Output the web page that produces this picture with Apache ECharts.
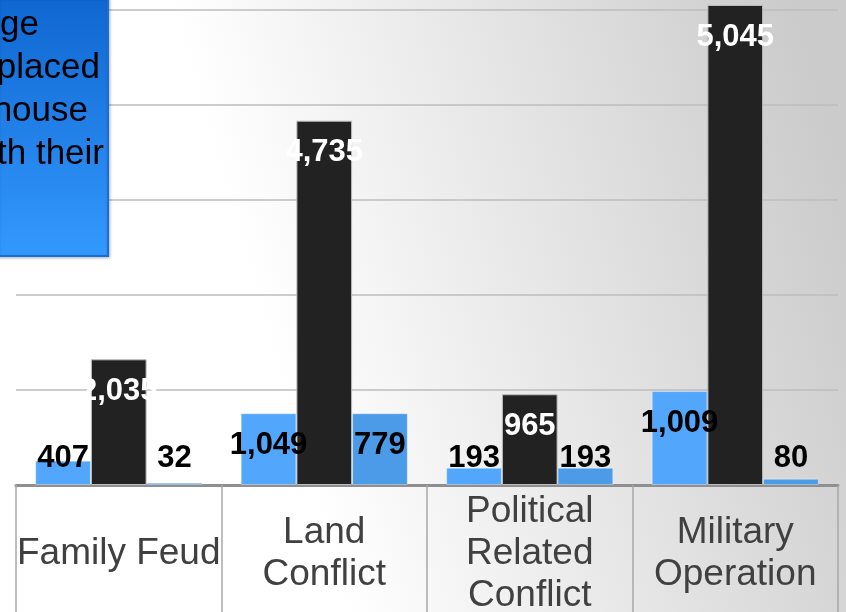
<!DOCTYPE html>
<html>
<head>
<meta charset="utf-8">
<script src="https://cdn.jsdelivr.net/npm/echarts@6/dist/echarts.min.js"></script>
<style>
  html, body { margin: 0; padding: 0; background: #fff; }
  #chart { width: 846px; height: 612px; }
</style>
</head>
<body>
<div id="chart"></div>
<script>
// ---- data ----
const categories = ['Family Feud', 'Land\nConflict', 'Political\nRelated\nConflict', 'Military\nOperation'];
// bar heights (axis units, gridlines every 1000)
const barsSeries1 = [256, 755, 182, 989];
const barsSeries2 = [1323, 3835, 955, 5053];
const barsSeries3 = [24, 755, 182, 66];
// numbers printed on the bars
const labelsSeries1 = [407, 1049, 193, 1009];
const labelsSeries2 = [2035, 4735, 965, 5045];
const labelsSeries3 = [32, 779, 193, 80];
const yTickValues = [0, 1000, 2000, 3000, 4000, 5000];
const boxLines = ['ge', 'placed', 'house', 'th their'];

// ---- chart ----
const chart = echarts.init(document.getElementById('chart'), null, { renderer: 'canvas' });
const FONT = 'Arial, "Liberation Sans", sans-serif';
const fmt = n => n.toLocaleString('en-US');

function labelFor(texts, color) {
  return {
    show: true,
    position: 'insideTop',
    align: 'center',
    verticalAlign: 'middle',
    fontFamily: FONT,
    fontWeight: 'bold',
    fontSize: 31,
    color: color,
    formatter: p => fmt(texts[p.dataIndex])
  };
}
function layoutFn(params) {
  const r = params.rect;
  return {
    x: r.x + r.width / 2,
    y: Math.min(r.y + 32, r.y + r.height - 27)
  };
}

const yStep = yTickValues[1] - yTickValues[0];

const option = {
  backgroundColor: {
    type: 'linear', x: 0, y: 0.7, x2: 1, y2: 0.3,
    colorStops: [
      { offset: 0, color: '#ffffff' },
      { offset: 0.32, color: '#ffffff' },
      { offset: 1, color: '#cbcbcb' }
    ]
  },
  animation: false,
  grid: { left: 16, right: 8, top: -18.5, bottom: 127, containLabel: false, outerBoundsMode: 'none' },
  xAxis: {
    type: 'category',
    data: categories,
    axisLine: { show: true, lineStyle: { color: '#8f8f8f', width: 3 } },
    axisTick: { show: true, alignWithLabel: false, length: 130, lineStyle: { color: '#a8a8a8', width: 1.5 } },
    axisLabel: {
      interval: 0,
      margin: 69,
      verticalAlign: 'middle',
      fontFamily: FONT,
      fontSize: 37,
      lineHeight: 42,
      color: '#404040'
    }
  },
  yAxis: {
    type: 'value',
    min: yTickValues[0],
    max: 5300,
    interval: yStep,
    axisLine: { show: false },
    axisTick: { show: false },
    axisLabel: { show: false },
    splitLine: { show: true, showMaxLine: false, lineStyle: { color: '#bdbdbd', width: 1.5 } }
  },
  series: [
    {
      name: 'Series 1', type: 'bar', data: barsSeries1,
      barCategoryGap: '18.7%', barGap: '0%',
      itemStyle: { color: '#52a7fd', borderColor: 'rgba(255,255,255,0.35)', borderWidth: 1 },
      label: labelFor(labelsSeries1, '#000000'),
      labelLayout: layoutFn,
      z: 2
    },
    {
      name: 'Series 2', type: 'bar', data: barsSeries2,
      barCategoryGap: '18.7%', barGap: '0%',
      itemStyle: { color: '#222222', borderColor: '#bdbdbd', borderWidth: 1 },
      label: labelFor(labelsSeries2, '#ffffff'),
      labelLayout: layoutFn,
      z: 2
    },
    {
      name: 'Series 3', type: 'bar', data: barsSeries3,
      barCategoryGap: '18.7%', barGap: '0%',
      itemStyle: { color: '#4c9be8', borderColor: 'rgba(255,255,255,0.35)', borderWidth: 1 },
      label: labelFor(labelsSeries3, '#000000'),
      labelLayout: layoutFn,
      z: 2
    }
  ],
  graphic: [
    {
      type: 'rect',
      z: 100,
      shape: { x: -3, y: -3, width: 111, height: 259 },
      style: {
        fill: {
          type: 'linear', x: 0, y: 0, x2: 0, y2: 1,
          colorStops: [
            { offset: 0, color: '#0f66d0' },
            { offset: 1, color: '#3399ff' }
          ]
        },
        stroke: '#1a6ed6',
        lineWidth: 2,
        shadowColor: 'rgba(0,0,0,0.25)',
        shadowBlur: 3,
        shadowOffsetX: 1,
        shadowOffsetY: 1
      }
    },
    { type: 'text', z: 101, x: 39, y: 25, style: { text: boxLines[0], align: 'right', verticalAlign: 'middle', font: '35px ' + FONT, fill: '#000' } },
    { type: 'text', z: 101, x: 100, y: 68, style: { text: boxLines[1], align: 'right', verticalAlign: 'middle', font: '35px ' + FONT, fill: '#000' } },
    { type: 'text', z: 101, x: 88, y: 111, style: { text: boxLines[2], align: 'right', verticalAlign: 'middle', font: '35px ' + FONT, fill: '#000' } },
    { type: 'text', z: 101, x: 104, y: 154, style: { text: boxLines[3], align: 'right', verticalAlign: 'middle', font: '35px ' + FONT, fill: '#000' } }
  ]
};
chart.setOption(option);
</script>
</body>
</html>
